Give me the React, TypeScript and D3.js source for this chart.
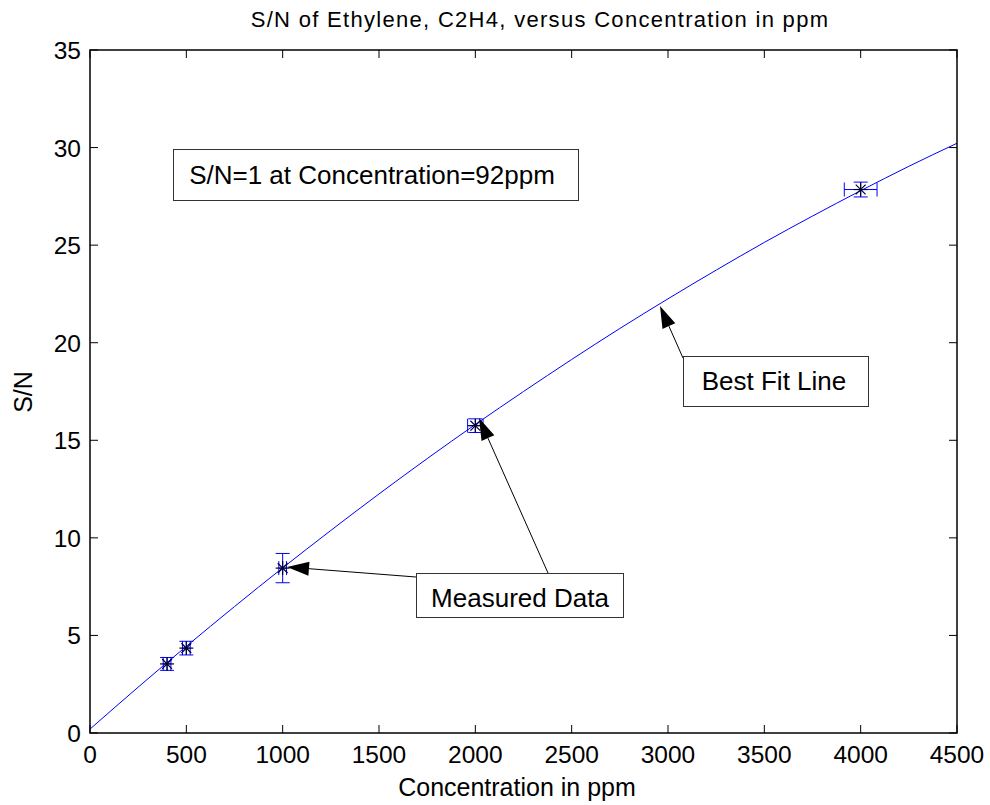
import React from "react";
import * as d3 from "d3";

const W = 990;
const H = 805;

const xTicks = [0, 500, 1000, 1500, 2000, 2500, 3000, 3500, 4000, 4500];
const yTicks = [0, 5, 10, 15, 20, 25, 30, 35];

const measConc = [400, 500, 1000, 2000, 4000];
const measSN = [3.54, 4.35, 8.45, 15.75, 27.85];
const errSN = [0.33, 0.35, 0.75, 0.35, 0.38];
const errConc = [20, 20, 20, 40, 85];

const fitConc = [0, 250, 500, 750, 1000, 1250, 1500, 1750, 2000, 2250, 2500, 2750, 3000, 3250, 3500, 3750, 4000, 4250, 4500];
const fitSN = [0.2, 2.35, 4.44, 6.48, 8.46, 10.38, 12.25, 14.06, 15.81, 17.5, 19.14, 20.73, 22.25, 23.72, 25.14, 26.49, 27.79, 29.04, 30.22];

const title = "S/N of Ethylene, C2H4, versus Concentration in ppm";
const xLabel = "Concentration in ppm";
const yLabel = "S/N";
const noteText = "S/N=1 at Concentration=92ppm";
const fitText = "Best Fit Line";
const dataText = "Measured Data";

const FONT = "'Liberation Sans', Arial, sans-serif";

function Arrow({ x1, y1, x2, y2 }: { x1: number; y1: number; x2: number; y2: number }) {
  const ang = Math.atan2(y2 - y1, x2 - x1);
  const len = 22;
  const wid = 7;
  const bx = x2 - len * Math.cos(ang);
  const by = y2 - len * Math.sin(ang);
  const px = -Math.sin(ang) * wid;
  const py = Math.cos(ang) * wid;
  return (
    <g>
      <line x1={x1} y1={y1} x2={bx} y2={by} stroke="#000" strokeWidth={1} />
      <path d={`M${x2},${y2}L${bx + px},${by + py}L${bx},${by}L${bx - px},${by - py}Z`} fill="#000" />
    </g>
  );
}

export default function App() {
  const L = 90, R = 957, T = 50, B = 733;
  const x = d3.scaleLinear().domain([0, 4500]).range([L, R]);
  const y = d3.scaleLinear().domain([0, 35]).range([B, T]);
  const line = d3
    .line<number>()
    .x((_, i) => x(fitConc[i]))
    .y((d) => y(d))
    .curve(d3.curveMonotoneX);
  const tl = 8;
  const cap = 7;
  const blue = "#0000ff";

  return (
    <svg width={W} height={H} style={{ position: "absolute", left: 0, top: 0, background: "#fff" }} fontFamily={FONT}>
      <rect x={0} y={0} width={W} height={H} fill="#fff" />
      {/* ticks */}
      {xTicks.map((t) => (
        <g key={"x" + t}>
          <line x1={x(t)} x2={x(t)} y1={B} y2={B - tl} stroke="#000" />
          <line x1={x(t)} x2={x(t)} y1={T} y2={T + tl} stroke="#000" />
          <text x={x(t)} y={763} fontSize={24.5} textAnchor="middle" fill="#000">
            {t}
          </text>
        </g>
      ))}
      {yTicks.map((t) => (
        <g key={"y" + t}>
          <line x1={L} x2={L + tl} y1={y(t)} y2={y(t)} stroke="#000" />
          <line x1={R} x2={R - tl} y1={y(t)} y2={y(t)} stroke="#000" />
          <text x={81} y={y(t) + 9} fontSize={24.5} textAnchor="end" fill="#000">
            {t}
          </text>
        </g>
      ))}
      {/* fit line */}
      <path d={line(fitSN) || ""} fill="none" stroke={blue} strokeWidth={1} />
      {/* error bars and markers */}
      {measConc.map((c, i) => {
        const cx = x(c);
        const cy = y(measSN[i]);
        const y0 = y(measSN[i] - errSN[i]);
        const y1 = y(measSN[i] + errSN[i]);
        const x0 = x(c - errConc[i]);
        const x1 = x(c + errConc[i]);
        const s = 7;
        return (
          <g key={"m" + i}>
            <g stroke={blue} strokeWidth={1}>
              <line x1={cx} x2={cx} y1={y0} y2={y1} />
              <line x1={cx - cap} x2={cx + cap} y1={y0} y2={y0} />
              <line x1={cx - cap} x2={cx + cap} y1={y1} y2={y1} />
              <line x1={x0} x2={x1} y1={cy} y2={cy} />
              <line x1={x0} x2={x0} y1={cy - cap} y2={cy + cap} />
              <line x1={x1} x2={x1} y1={cy - cap} y2={cy + cap} />
            </g>
            <g stroke="#000033" strokeWidth={1.2}>
              <line x1={cx - s} x2={cx + s} y1={cy} y2={cy} />
              <line x1={cx} x2={cx} y1={cy - s} y2={cy + s} />
              <line x1={cx - s * 0.7} x2={cx + s * 0.7} y1={cy - s * 0.7} y2={cy + s * 0.7} />
              <line x1={cx - s * 0.7} x2={cx + s * 0.7} y1={cy + s * 0.7} y2={cy - s * 0.7} />
            </g>
          </g>
        );
      })}
      {/* axes box */}
      <rect x={L} y={T} width={R - L} height={B - T} fill="none" stroke="#000" strokeWidth={1.5} />
      {/* annotations */}
      <rect x={173.5} y={149.5} width={405} height={51} fill="#fff" stroke="#333" strokeWidth={1} />
      <text x={372} y={184} fontSize={26} textAnchor="middle" fill="#000">
        {noteText}
      </text>
      <Arrow x1={683} y1={358} x2={660} y2={306} />
      <rect x={683.5} y={356.5} width={185} height={50} fill="#fff" stroke="#333" strokeWidth={1} />
      <text x={774} y={390} fontSize={26} textAnchor="middle" fill="#000">
        {fitText}
      </text>
      <Arrow x1={416} y1={577} x2={287} y2={567} />
      <Arrow x1={548} y1={573} x2={479} y2={418} />
      <rect x={416.5} y={573.5} width={207} height={44} fill="#fff" stroke="#333" strokeWidth={1} />
      <text x={520} y={607} fontSize={26} textAnchor="middle" fill="#000">
        {dataText}
      </text>
      {/* titles */}
      <text x={540} y={27} fontSize={22} letterSpacing={1.3} textAnchor="middle" fill="#000">
        {title}
      </text>
      <text x={517} y={796} fontSize={25} textAnchor="middle" fill="#000">
        {xLabel}
      </text>
      <text transform={`translate(32,392) rotate(-90)`} fontSize={25} textAnchor="middle" fill="#000">
        {yLabel}
      </text>
    </svg>
  );
}
